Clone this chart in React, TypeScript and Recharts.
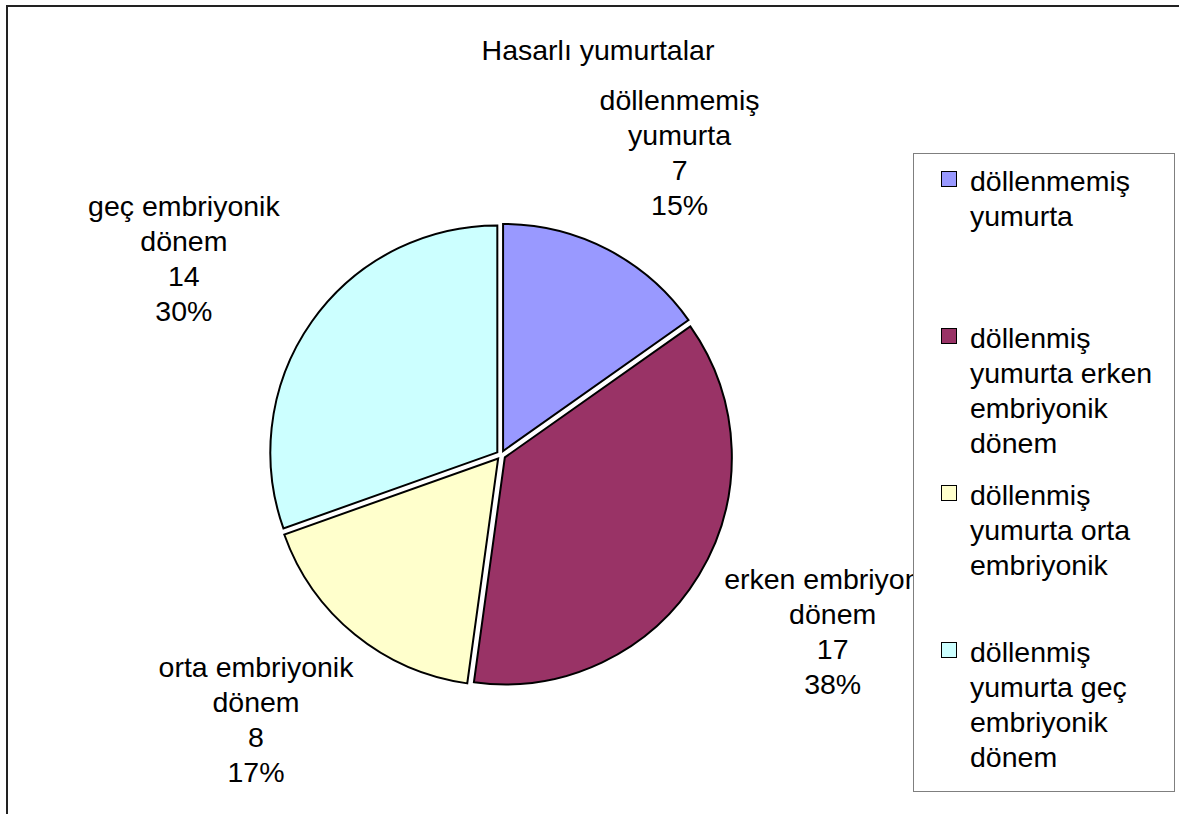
import { PieChart, Pie, Cell, Sector, Legend } from "recharts";

// legend names (as in the legend box)
const categories = [
  "döllenmemiş yumurta",
  "döllenmiş yumurta erken embriyonik dönem",
  "döllenmiş yumurta orta embriyonik",
  "döllenmiş yumurta geç embriyonik dönem",
];
// names printed next to slices
const sliceNames = [
  "döllenmemiş yumurta",
  "erken embriyonik dönem",
  "orta embriyonik dönem",
  "geç embriyonik dönem",
];
const counts = [7, 17, 8, 14];
const percentLabels = ["15%", "38%", "17%", "30%"];

const colors = ["#9999FF", "#993366", "#FFFFCC", "#CCFFFF"];
const FONT = '"Liberation Sans", Arial, sans-serif';
const FS = 28.5;
const LINE_H = 35;
const EXPLODE = 4.5;
// labels sit on an ellipse around the pie (wider than tall)
const LABEL_KX = 1.71;
const LABEL_KY = 1.5;

const data = counts.map((v, i) => ({
  name: categories[i],
  label: sliceNames[i],
  value: v,
  pct: percentLabels[i],
}));

const ExplodedSector = (props: any) => {
  const rad = (-props.midAngle * Math.PI) / 180;
  return (
    <Sector
      {...props}
      cx={props.cx + Math.cos(rad) * EXPLODE}
      cy={props.cy + Math.sin(rad) * EXPLODE}
    />
  );
};

const renderLabel = (props: any) => {
  const { cx, cy, midAngle, outerRadius, index } = props;
  const d = data[index];
  const cut = d.label.lastIndexOf(" ");
  const lines = [d.label.slice(0, cut), d.label.slice(cut + 1), String(d.value), d.pct];
  const rad = (-midAngle * Math.PI) / 180;
  const x = cx + outerRadius * LABEL_KX * Math.cos(rad);
  const y = cy + outerRadius * LABEL_KY * Math.sin(rad);
  return (
    <g>
      {lines.map((ln, i) => (
        <text
          key={i}
          x={x}
          y={y + (i - (lines.length - 1) / 2) * LINE_H}
          textAnchor="middle"
          dominantBaseline="central"
          fontFamily={FONT}
          fontSize={FS}
          fill="#000"
        >
          {ln}
        </text>
      ))}
    </g>
  );
};

const renderLegend = () => (
  <div
    style={{
      width: 262,
      height: 639,
      boxSizing: "border-box",
      border: "1.5px solid #7f7f7f",
      background: "#fff",
      paddingTop: 10,
      fontFamily: FONT,
      fontSize: FS,
      color: "#000",
    }}
  >
    {categories.map((name, i) => (
      <div key={name} style={{ height: 157, display: "flex", alignItems: "flex-start" }}>
        <div
          style={{
            width: 14,
            height: 14,
            marginLeft: 27,
            marginTop: 7,
            background: colors[i],
            border: "1px solid #000",
            flexShrink: 0,
          }}
        />
        <div style={{ marginLeft: 13, width: 200, lineHeight: "35px" }}>{name}</div>
      </div>
    ))}
  </div>
);

export default function App() {
  return (
    <div
      style={{
        position: "absolute",
        left: 0,
        top: 0,
        width: 1179,
        height: 814,
        background: "#fff",
        overflow: "hidden",
      }}
    >
      <div
        style={{
          position: "absolute",
          left: 6,
          top: 5,
          width: 1179,
          height: 820,
          borderTop: "2px solid #222",
          borderLeft: "2px solid #222",
        }}
      />
      <div style={{ position: "absolute", left: 0, top: 0 }}>
        <PieChart width={1179} height={814} margin={{ top: 0, right: 0, bottom: 0, left: 0 }}>
          <Pie
            data={data}
            dataKey="value"
            nameKey="name"
            cx={501}
            cy={455}
            outerRadius={227}
            startAngle={90}
            endAngle={-270}
            stroke="#000"
            strokeWidth={2}
            shape={ExplodedSector}
            label={renderLabel}
            labelLine={false}
            isAnimationActive={false}
          >
            {data.map((d, i) => (
              <Cell key={d.name} fill={colors[i]} />
            ))}
          </Pie>
          <Legend
            content={renderLegend}
            wrapperStyle={{ position: "absolute", left: 913, top: 153, width: 262, height: 639 }}
          />
        </PieChart>
      </div>
      <div
        style={{
          position: "absolute",
          left: 298,
          top: 36,
          width: 600,
          textAlign: "center",
          fontFamily: FONT,
          fontSize: FS,
          lineHeight: "28px",
          color: "#000",
        }}
      >
        Hasarlı yumurtalar
      </div>
    </div>
  );
}
